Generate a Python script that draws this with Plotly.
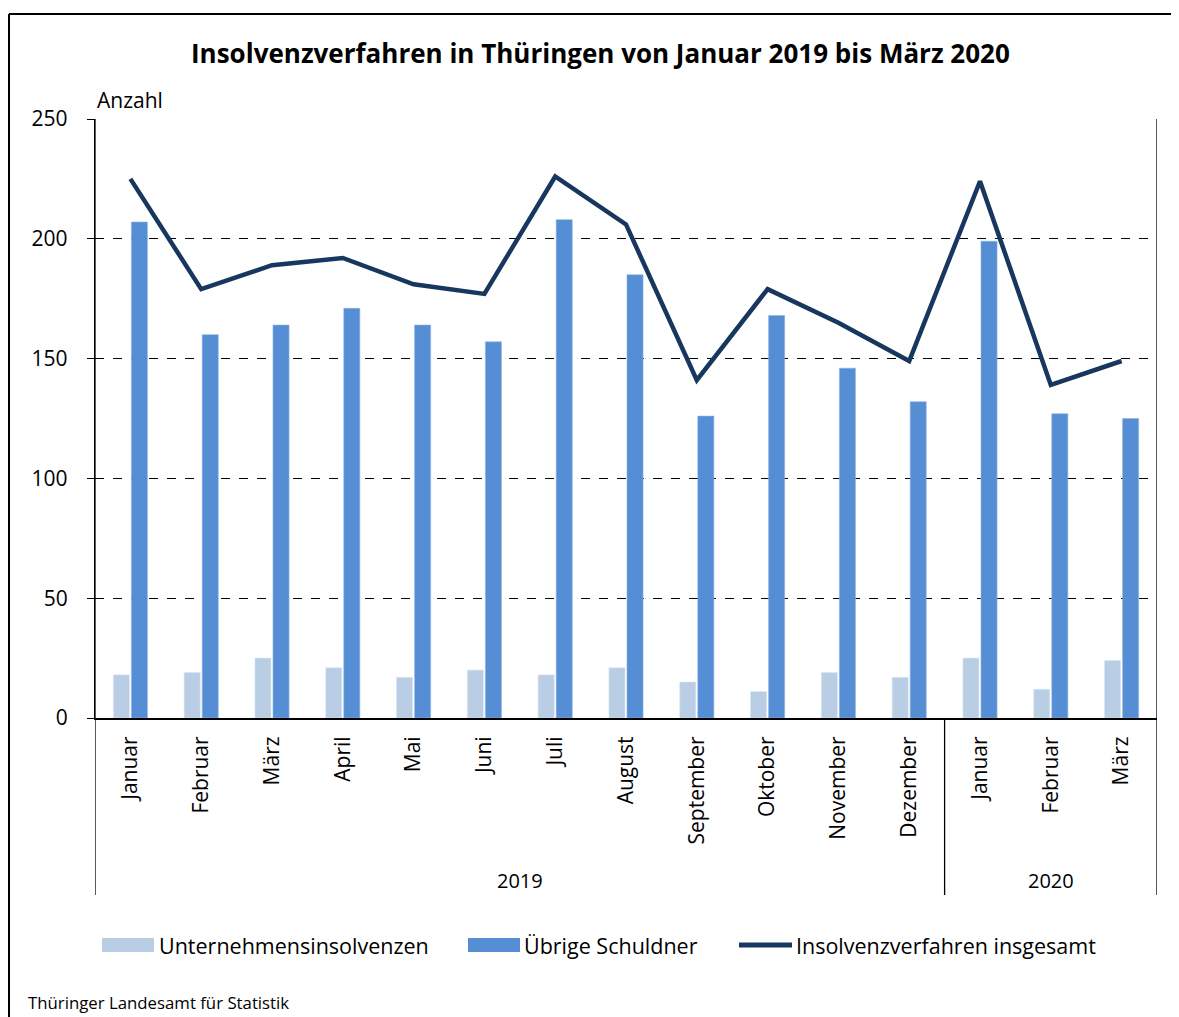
import plotly.graph_objects as go

months = ["Januar", "Februar", "März", "April", "Mai", "Juni", "Juli", "August",
          "September", "Oktober", "November", "Dezember", "Januar", "Februar", "März"]
years = ["2019", "2020"]
unternehmen = [18, 19, 25, 21, 17, 20, 18, 21, 15, 11, 19, 17, 25, 12, 24]
uebrige = [207, 160, 164, 171, 164, 157, 208, 185, 126, 168, 146, 132, 199, 127, 125]
insgesamt = [225, 179, 189, 192, 181, 177, 226, 206, 141, 179, 165, 149, 224, 139, 149]
y_ticks = [0, 50, 100, 150, 200, 250]

FONT = "Open Sans"
OFF = 8  # page body margin
W, H = 1179 - OFF, 1017 - OFF
# plot area in reference (page) pixels
L, R, T, B = 95, 1157, 119, 718

def px(xp):
    return (xp - L) / (R - L)

def py(yp):
    return (B - yp) / (B - T)

xs = list(range(len(months)))
C_LIGHT = "#B9CDE5"
C_MID = "#558ED5"
C_DARK = "#17375E"

fig = go.Figure()
fig.add_trace(go.Bar(x=xs, y=unternehmen, name="Unternehmensinsolvenzen",
                     marker=dict(color=C_LIGHT, line=dict(color="#DCE6F2", width=0.6))))
fig.add_trace(go.Bar(x=xs, y=uebrige, name="Übrige Schuldner",
                     marker=dict(color=C_MID, line=dict(color="#8DB3E2", width=0.6))))
fig.add_trace(go.Scatter(x=xs, y=insgesamt, mode="lines", name="Insolvenzverfahren insgesamt",
                         line=dict(color=C_DARK, width=4.5)))

shapes = []
ybot = py(895)
# outer frame (top and left)
shapes.append(dict(type="line", xref="paper", yref="paper", x0=px(9), x1=px(1179), y0=py(14), y1=py(14),
                   line=dict(color="black", width=2)))
shapes.append(dict(type="line", xref="paper", yref="paper", x0=px(9), x1=px(9), y0=py(14), y1=py(1017),
                   line=dict(color="black", width=2)))
# category group separators
for xv, top in [(-0.5, 1), (11.5, 0), (14.5, 1)]:
    shapes.append(dict(type="line", xref="x", yref="paper", x0=xv, x1=xv, y0=ybot, y1=top,
                       line=dict(color="black", width=1.3)))

annotations = []
annotations.append(dict(text="<b>Insolvenzverfahren in Thüringen von Januar 2019 bis März 2020</b>",
                        xref="paper", yref="paper", x=px(600), y=py(53), showarrow=False,
                        xanchor="center", yanchor="middle", font=dict(family=FONT, size=26, color="black")))
annotations.append(dict(text="Anzahl", xref="paper", yref="paper", x=px(95), y=py(100), showarrow=False,
                        xanchor="left", yanchor="middle", font=dict(family=FONT, size=21, color="black")))
annotations.append(dict(text=years[0], xref="x", yref="paper", x=5.5, y=py(880), showarrow=False,
                        xanchor="center", yanchor="middle", font=dict(family=FONT, size=20, color="black")))
annotations.append(dict(text=years[1], xref="x", yref="paper", x=13, y=py(880), showarrow=False,
                        xanchor="center", yanchor="middle", font=dict(family=FONT, size=20, color="black")))
annotations.append(dict(text="Thüringer Landesamt für Statistik", xref="paper", yref="paper",
                        x=px(26), y=py(1003), showarrow=False, xanchor="left", yanchor="middle",
                        font=dict(family=FONT, size=16.8, color="black")))

# manual legend
legend_items = [
    ("rect", C_LIGHT, 102, 154, "Unternehmensinsolvenzen", 157),
    ("rect", C_MID, 468, 520, "Übrige Schuldner", 522),
    ("line", C_DARK, 739, 792, "Insolvenzverfahren insgesamt", 794),
]
ly = 945
for kind, col, x0, x1, label, tx in legend_items:
    if kind == "rect":
        shapes.append(dict(type="rect", xref="paper", yref="paper", x0=px(x0), x1=px(x1),
                           y0=py(ly + 7), y1=py(ly - 7), fillcolor=col, line=dict(width=0)))
    else:
        shapes.append(dict(type="line", xref="paper", yref="paper", x0=px(x0), x1=px(x1),
                           y0=py(ly), y1=py(ly), line=dict(color=col, width=5)))
    annotations.append(dict(text=label, xref="paper", yref="paper", x=px(tx), y=py(ly), showarrow=False,
                            xanchor="left", yanchor="middle", font=dict(family=FONT, size=21.5, color="black")))

fig.update_layout(
    width=W, height=H,
    margin=dict(l=L - OFF, r=W - (R - OFF), t=T - OFF, b=H - (B - OFF), pad=0),
    paper_bgcolor="white", plot_bgcolor="white",
    barmode="group", bargap=0.49, bargroupgap=0.11,
    showlegend=False,
    font=dict(family=FONT, color="black"),
    shapes=shapes, annotations=annotations,
)
fig.update_xaxes(range=[-0.5, 14.5], tickmode="array", tickvals=xs, ticktext=months,
                 tickangle=-90, tickfont=dict(family=FONT, size=21, color="black"),
                 showline=True, linecolor="black", linewidth=2, showgrid=False, ticks="",
                 ticklabelstandoff=8, zeroline=False)
fig.update_yaxes(range=[0, 250], tickmode="array", tickvals=y_ticks,
                 tickfont=dict(family=FONT, size=21, color="black"),
                 showline=True, linecolor="black", linewidth=1.3, ticks="outside", ticklen=7,
                 tickcolor="black", showgrid=True, gridcolor="black", griddash="dash", gridwidth=1,
                 zeroline=False, ticklabelstandoff=15)

fig.write_html("out.html")
